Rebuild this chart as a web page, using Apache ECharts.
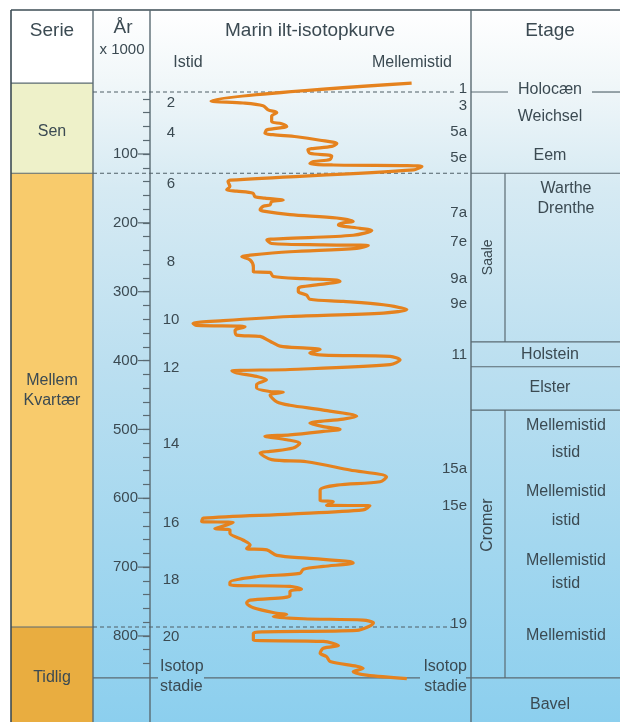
<!DOCTYPE html>
<html><head><meta charset="utf-8">
<script src="https://cdn.jsdelivr.net/npm/echarts@6/dist/echarts.min.js"></script>
<style>html,body{margin:0;padding:0;background:#fff}#c{width:620px;height:722px}</style>
</head><body><div id="c"></div>
<script>
// ---- data (age in kyr before present, isotope index 0 = istid .. 100 = mellemistid) ----
const curveAge = [-3,23,26,30,36,40,45,53,56,60,65,70,72,75,80,85,89,94,99,103,108,111,114,116,118,123,138,140,147,152,154,157,162,164,167,169,174,176,181,183,188,193,198,200,203,208,211,218,223,225,230,232,233,237,242,247,249,254,264,271,272,278,281,283,285,290,295,300,305,311,314,319,326,331,336,342,346,349,350,351,356,363,365,372,379,382,384,389,392,394,399,406,413,415,418,423,428,435,440,445,446,450,460,465,472,481,485,491,496,500,503,508,510,515,520,527,532,534,544,547,559,569,576,581,588,603,605,610,611,617,623,629,634,635,639,644,646,651,661,668,673,675,683,687,692,694,699,703,709,714,722,726,728,732,735,742,748,752,759,767,769,772,775,777,781,792,794,796,806,808,814,818,825,830,837,844,847,852,857,862];
const curveIso = [81.5,19.0,29.0,35.2,36.8,39.5,37.9,37.9,41.0,42.6,36.4,35.8,38.3,45.7,53.0,58.2,56.6,49.2,49.8,56.6,56.1,50.9,49.8,57.1,84.7,82.2,25.0,24.3,24.9,23.9,27.0,32.1,32.7,35.8,41.5,37.9,37.4,35.3,34.3,35.3,43.6,58.2,63.3,60.2,58.7,65.4,69.1,63.3,41.5,36.4,37.9,54.0,68.0,64.4,43.6,31.2,28.6,31.2,32.2,32.2,37.4,38.4,47.8,58.2,59.2,51.9,46.2,46.2,48.8,49.8,60.2,72.7,80.0,72.7,43.6,22.8,13.4,14.5,28.0,29.6,26.5,27.0,34.3,37.4,40.5,48.8,53.0,49.8,54.0,74.8,77.9,74.8,43.6,25.5,27.0,33.2,36.3,33.2,33.2,37.4,41.5,37.4,39.5,43.6,54.0,64.4,60.2,49.8,54.0,59.2,54.0,43.6,35.8,42.6,46.7,44.6,37.4,34.3,37.9,48.8,62.3,73.7,71.7,58.2,53.0,53.0,57.1,55.0,68.5,66.4,43.6,16.6,16.1,25.9,23.9,20.2,24.9,24.9,29.1,31.2,30.1,36.4,39.5,48.8,62.3,63.3,54.0,47.8,46.7,33.2,24.9,24.9,43.6,47.2,43.6,43.6,31.2,30.1,32.2,39.5,42.6,38.4,47.8,66.4,69.6,64.4,35.3,32.2,32.2,54.0,58.7,54.0,53.0,55.0,56.1,64.4,66.4,63.3,67.5,80.0];

const axisMajor = [100,200,300,400,500,600,700,800];

const serieNames = ['Sen','Mellem\nKvartær','Tidlig'];
const serieStart = [-3,128,787];
const serieLabelAge = [67,444,860];

const dashedAges = [10,128,787];

const oddStageNames = ['1','3','5a','5e','7a','7e','9a','9e','11','15a','15e','19'];
const oddStageAges  = [6,30,68,105,185,227,281,318,392,557,611,783];
const evenStageNames = ['2','4','6','8','10','12','14','16','18','20'];
const evenStageAges  = [26,70,143,257,341,410,521,636,719,802];

const etageBreaks = [128,373,409,472,861];
const holoceneAge = 10;
const etageNames = ['Holocæn','Weichsel','Eem','Warthe','Drenthe','Holstein','Elster','Mellemistid','istid','Mellemistid','istid','Mellemistid','istid','Mellemistid','Bavel'];
const etageAges  = [7,46,103,150,179,391,440,495,533,590,632,690,724,800,899];
const etageInSub = [false,false,false,true,true,false,false,true,true,true,true,true,true,true,false];
const subUnitNames = ['Saale','Cromer'];
const subUnitStart = [128,472];
const subUnitEnd   = [373,861];
const subUnitLabelAge = [250,639];

// ---- chart ----
const chart = echarts.init(document.getElementById('c'), null, {renderer:'canvas'});
const FONT = '"Liberation Sans", Arial, Helvetica, sans-serif';
const TXT = '#3b4a52';
const LC = '#5a6a72';

chart.setOption({
  animation:false,
  backgroundColor:'#ffffff',
  grid:{left:150,right:149,top:98.9,height:564.6,containLabel:false,outerBoundsMode:'none'},
  xAxis:{type:'value',min:0,max:100,show:false},
  yAxis:{type:'value',inverse:true,min:20,max:840,interval:20,
    axisLine:{show:false},
    axisTick:{show:true,inside:false,length:7,interval:0,lineStyle:{color:LC,width:1.2}},
    splitLine:{show:false},
    axisLabel:{interval:0,margin:12,color:TXT,fontSize:15,fontFamily:'Liberation Sans',
      formatter:v=> (v%100===0 ? String(v) : '')}
  },
  series:[{type:'line',z:10,clip:false,showSymbol:false,smooth:0.3,
    data:curveAge.map((a,i)=>[curveIso[i],a]),
    lineStyle:{color:'#e5821e',width:3.2}}]
});

const Y = a => chart.convertToPixel({yAxisIndex:0}, a);
const X0=11, XS=93, XA=150, XE=471, XC=505, XR=620, TOP=10, BOT=722;
const g = [];
function T(text,x,y,size,align,extra){
  const el = {type:'text',z:5,silent:true,x:x,y:y,
    style:{text:text,x:0,y:0,font:size+'px '+FONT,fill:TXT,
      align:align||'center',textAlign:align||'center',
      verticalAlign:'middle',textVerticalAlign:'middle',lineHeight:20}};
  return Object.assign(el, extra||{});
}
function L(x1,y1,x2,y2,w,dash,color){
  return {type:'line',z:3,silent:true,shape:{x1,y1,x2,y2},
    style:{stroke:color||LC,lineWidth:w||1.2,lineDash:dash||null}};
}
// background gradient
g.push({type:'rect',z:-10,silent:true,shape:{x:X0,y:TOP,width:XR-X0,height:BOT-TOP},
  style:{fill:new echarts.graphic.LinearGradient(0,0,0,1,[
    {offset:0,color:'#ffffff'},{offset:0.1,color:'#f1f7f9'},{offset:0.25,color:'#d6eaf3'},
    {offset:0.5,color:'#bbdff0'},{offset:0.75,color:'#a3d7ef'},{offset:1,color:'#8ccfee'}])}});
// serie column
g.push({type:'rect',z:1,silent:true,shape:{x:X0,y:TOP,width:XS-X0,height:Y(serieStart[0])-TOP},style:{fill:'#ffffff'}});
const serieColors = ['#eef1c9','#f8cb6c','#e9ad40'];
serieStart.forEach((s,i)=>{
  const y1 = Y(s), y2 = i<serieStart.length-1 ? Y(serieStart[i+1]) : BOT;
  g.push({type:'rect',z:1,silent:true,shape:{x:X0,y:y1,width:XS-X0,height:y2-y1},style:{fill:serieColors[i]}});
  g.push(L(X0,y1,XS,y1,1.2));
  g.push(T(serieNames[i],52,Y(serieLabelAge[i]),16));
});
// frame & column lines
g.push(L(X0,TOP,XR,TOP,1.6,null,'#3c4c54'));
g.push(L(X0,TOP,X0,BOT,1.6,null,'#3c4c54'));
g.push(L(XS,TOP,XS,BOT,1.4));
g.push(L(XA,TOP,XA,BOT,1.4));
g.push(L(XE,TOP,XE,BOT,1.4));
// major tick extensions
axisMajor.forEach(v=>{ const y=Y(v); g.push(L(XA-12,y,XA,y,1.2)); });
// dashed boundaries
const dashEnd = [457,XE,452];
dashedAges.forEach((a,i)=>{ const y=Y(a); g.push(L(XS,y,dashEnd[i],y,1.1,[4,3],'#4f5f67')); });
// base line at bottom of isotope stages
const yb = Y(etageBreaks[etageBreaks.length-1]);
g.push(L(XS,yb,158,yb,1.2)); g.push(L(204,yb,420,yb,1.2)); g.push(L(466,yb,XR,yb,1.2));
// etage lines
etageBreaks.slice(0,-1).forEach(a=>{ const y=Y(a); g.push(L(XE,y,XR,y,1.2)); });
const yh = Y(holoceneAge);
g.push(L(XE,yh,508,yh,1.2)); g.push(L(592,yh,XR,yh,1.2));
subUnitNames.forEach((n,i)=>{
  g.push(L(XC,Y(subUnitStart[i]),XC,Y(subUnitEnd[i]),1.2));
  g.push(T(n,488,Y(subUnitLabelAge[i]),n==='Saale'?14:16,'center',{rotation:Math.PI/2}));
});
etageNames.forEach((n,i)=>{ g.push(T(n, etageInSub[i]?566:550, Y(etageAges[i]), 16)); });
// stage numbers
oddStageNames.forEach((n,i)=>{ g.push(T(n,467,Y(oddStageAges[i]),15,'right')); });
evenStageNames.forEach((n,i)=>{ g.push(T(n,171,Y(evenStageAges[i]),15,'center')); });
// headers
g.push(T('Serie',52,31,19));
g.push(T('År',123,28,19));
g.push(T('x 1000',122,50,15));
g.push(T('Marin ilt-isotopkurve',310,31,19));
g.push(T('Istid',188,63,16));
g.push(T('Mellemistid',412,63,16));
g.push(T('Etage',550,31,19));
g.push(T('Isotop\nstadie',160,677,16,'left'));
g.push(T('Isotop\nstadie',467,677,16,'right'));

chart.setOption({graphic:{elements:g}});
</script></body></html>
